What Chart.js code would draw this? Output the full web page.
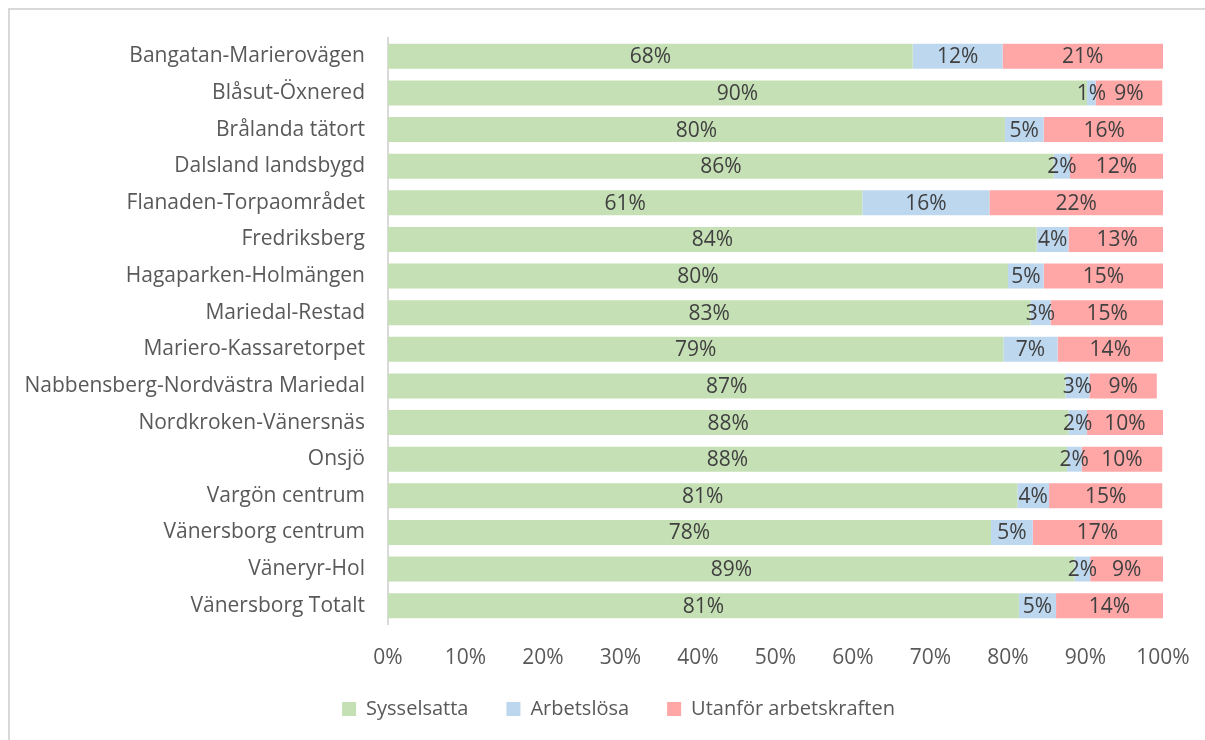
<!DOCTYPE html>
<html>
<head>
<meta charset="utf-8">
<script src="https://cdn.jsdelivr.net/npm/chart.js@4.4.1/dist/chart.umd.min.js"></script>
<style>
  html, body { margin: 0; padding: 0; background: #fff; overflow: hidden; }
  #wrap { position: relative; width: 1205px; height: 740px; }
  #frame { position: absolute; left: 8px; top: 8px; width: 1300px; height: 800px; border: 2px solid #d9d9d9; box-sizing: border-box; }
  canvas { position: absolute; left: 0; top: 0; }
</style>
</head>
<body>
<div id="wrap">
  <div id="frame"></div>
  <canvas id="c" width="1205" height="740"></canvas>
</div>
<script>
const categories = [
  "Bangatan-Marierovägen",
  "Blåsut-Öxnered",
  "Brålanda tätort",
  "Dalsland landsbygd",
  "Flanaden-Torpaområdet",
  "Fredriksberg",
  "Hagaparken-Holmängen",
  "Mariedal-Restad",
  "Mariero-Kassaretorpet",
  "Nabbensberg-Nordvästra Mariedal",
  "Nordkroken-Vänersnäs",
  "Onsjö",
  "Vargön centrum",
  "Vänersborg centrum",
  "Väneryr-Hol",
  "Vänersborg Totalt"
];
const sysselsatta = [67.7, 90.2, 79.6, 85.9, 61.2, 83.7, 80.0, 82.9, 79.4, 87.4, 87.8, 87.6, 81.2, 77.8, 88.6, 81.4];
const arbetslosa  = [11.6, 1.1, 5.0, 2.1, 16.4, 4.1, 4.6, 2.6, 7.0, 3.1, 2.4, 1.9, 4.1, 5.4, 2.0, 4.8];
const utanfor     = [20.7, 8.6, 15.6, 12.0, 22.4, 12.6, 15.4, 14.6, 13.6, 8.7, 9.8, 10.4, 14.6, 16.7, 9.4, 13.8];
const xTicks = [0, 10, 20, 30, 40, 50, 60, 70, 80, 90, 100];

const FONT = "'Open Sans', Lato, sans-serif";
const FS = 21;

const segLabels = {
  id: 'segLabels',
  afterDatasetsDraw(chart) {
    const ctx = chart.ctx;
    ctx.save();
    ctx.font = FS + "px " + FONT;
    ctx.fillStyle = '#404040';
    ctx.textAlign = 'center';
    ctx.textBaseline = 'middle';
    chart.data.datasets.forEach((ds, di) => {
      const meta = chart.getDatasetMeta(di);
      meta.data.forEach((bar, i) => {
        const v = ds.data[i];
        const cx = (bar.x + bar.base) / 2;
        ctx.fillText(Math.round(v) + '%', cx, bar.y + 1);
      });
    });
    ctx.restore();
  }
};

const shiftLegend = {
  id: 'shiftLegend',
  afterLayout(chart) {
    const lg = chart.legend;
    if (lg) { lg.left += 37; lg.right += 37; lg.top -= 11; lg.bottom -= 11; }
  }
};

new Chart(document.getElementById('c'), {
  type: 'bar',
  data: {
    labels: categories,
    datasets: [
      { label: 'Sysselsatta', data: sysselsatta, backgroundColor: '#c5e0b4' },
      { label: 'Arbetslösa', data: arbetslosa, backgroundColor: '#bdd7ee' },
      { label: 'Utanför arbetskraften', data: utanfor, backgroundColor: '#ffa6a6' }
    ]
  },
  options: {
    indexAxis: 'y',
    responsive: false,
    animation: false,
    layout: { padding: { top: 38, right: 42, bottom: 0, left: 0 } },
    datasets: { bar: { categoryPercentage: 1, barPercentage: 0.68 } },
    scales: {
      x: {
        stacked: true, min: 0, max: 100,
        afterBuildTicks(scale) { scale.ticks = xTicks.map(v => ({ value: v })); },
        afterFit(scale) { scale.height = 48; scale.paddingLeft = 0; scale.paddingRight = 0; },
        ticks: { callback: v => v + '%', color: '#595959', font: { size: FS, family: FONT }, padding: 21, maxRotation: 0 },
        grid: { display: false, drawTicks: false },
        border: { display: false }
      },
      y: {
        stacked: true,
        afterFit(scale) { scale.width = 388; },
        ticks: { color: '#595959', font: { size: FS, family: FONT }, padding: 23 },
        grid: { display: false, drawTicks: false },
        border: { display: true, color: '#d9d9d9', width: 2 }
      }
    },
    plugins: {
      legend: {
        position: 'bottom',
        labels: { boxWidth: 14, boxHeight: 14, color: '#595959', font: { size: 20, family: FONT }, padding: 38 }
      },
      tooltip: { enabled: false }
    }
  },
  plugins: [segLabels, shiftLegend]
});
</script>
</body>
</html>
